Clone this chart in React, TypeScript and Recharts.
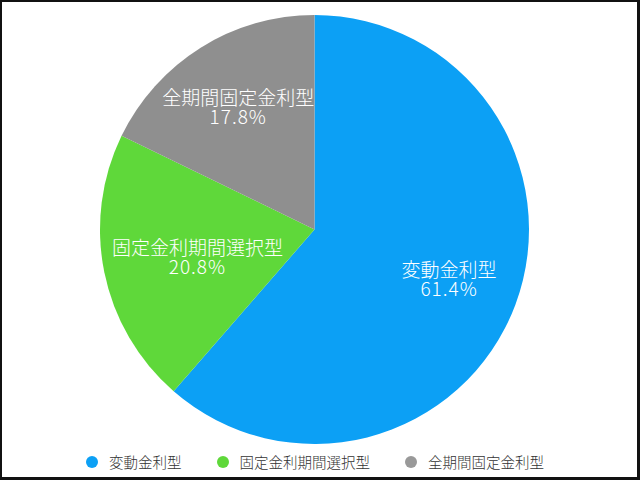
import React from 'react';
import { PieChart, Pie, Cell, Legend } from 'recharts';

const CATEGORIES = ['変動金利型', '固定金利期間選択型', '全期間固定金利型'];
const SHARES = [61.4, 20.8, 17.8];
const SLICE_COLORS = ['#0ca0f5', '#5fd83a', '#8f8f8f'];
const LEGEND_COLORS = ['#0ca0f5', '#5fd83a', '#999999'];

const FONT = '"Noto Sans CJK JP", "Noto Sans", sans-serif';
const RAD = Math.PI / 180;
const LABEL_SIZE = 19;

const data = CATEGORIES.map((name, i) => ({ name, value: SHARES[i] }));

// label sits at ~2/3 radius, but is nudged inward so long names stay inside the disc
const SliceLabel = (props: any) => {
    const { cx, cy, midAngle, outerRadius, index } = props;
    const r = outerRadius * 0.67;
    let x = cx + r * Math.cos(-midAngle * RAD);
    const y = cy + r * Math.sin(-midAngle * RAD);
    const halfW = (CATEGORIES[index].length * LABEL_SIZE) / 2;
    const edge = Math.sqrt(outerRadius * outerRadius - (y - cy) * (y - cy));
    const pad = 10;
    if (x - halfW < cx - edge + pad) x = cx - edge + pad + halfW;
    if (x + halfW > cx + edge - pad) x = cx + edge - pad - halfW;
    return (
        <text x={x} y={y} fill="#ffffff" textAnchor="middle" fontFamily={FONT} fontWeight={300} fontSize={LABEL_SIZE}>
            <tspan x={x} dy={-3}>{CATEGORIES[index]}</tspan>
            <tspan x={x} dy={19} letterSpacing={1}>{SHARES[index].toFixed(1)}%</tspan>
        </text>
    );
};

const LegendRow = () => (
    <div style={{ display: 'flex', justifyContent: 'center', alignItems: 'center', gap: 35, fontFamily: FONT, fontWeight: 300, fontSize: 14.5, color: '#333' }}>
        {CATEGORIES.map((c, i) => (
            <div key={c} style={{ display: 'flex', alignItems: 'center' }}>
                <span style={{ width: 12, height: 12, borderRadius: 6, background: LEGEND_COLORS[i], marginRight: 11 }} />
                <span>{c}</span>
            </div>
        ))}
    </div>
);

export default function App() {
    return (
        <div style={{ position: 'fixed', left: 0, top: 0, width: 640, height: 480, boxSizing: 'border-box', border: '2px solid #111', borderRightWidth: 3, borderBottomWidth: 3, background: '#fff', overflow: 'hidden' }}>
            <div style={{ position: 'absolute', left: -2, top: -2 }}>
                <PieChart width={640} height={480} margin={{ top: 0, right: 0, bottom: 0, left: 0 }}>
                    <Pie
                        data={data}
                        dataKey="value"
                        cx={314.5}
                        cy={229.5}
                        outerRadius={214.5}
                        startAngle={90}
                        endAngle={-270}
                        stroke="none"
                        labelLine={false}
                        label={SliceLabel}
                        isAnimationActive={false}
                    >
                        {data.map((d, i) => <Cell key={d.name} fill={SLICE_COLORS[i]} />)}
                    </Pie>
                    <Legend content={LegendRow} layout="horizontal" verticalAlign="bottom" wrapperStyle={{ bottom: 8, left: 0, width: 630 }} />
                </PieChart>
            </div>
        </div>
    );
}
